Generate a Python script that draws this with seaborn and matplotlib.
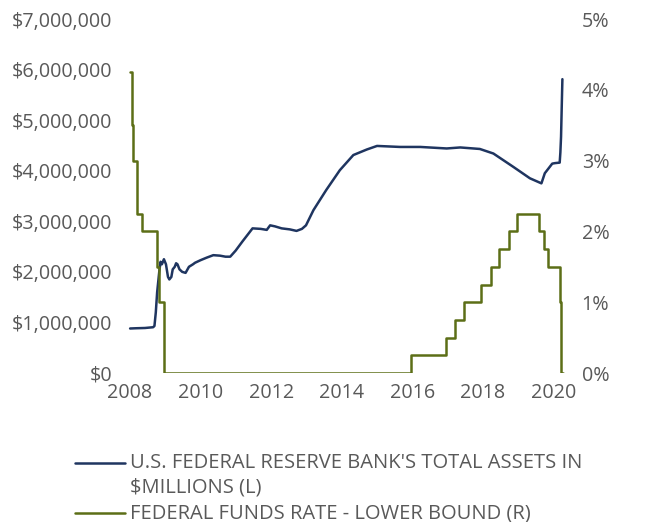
import matplotlib
matplotlib.use("Agg")
import matplotlib.pyplot as plt
import matplotlib.dates as mdates
from matplotlib.lines import Line2D
from matplotlib.ticker import FuncFormatter, MultipleLocator
import seaborn as sns
import pandas as pd

# ---------------- data ----------------
asset_dates = [
    "2008-01-02", "2008-03-05", "2008-06-04", "2008-08-27", "2008-09-10", "2008-09-24",
    "2008-10-08", "2008-10-29", "2008-11-12", "2008-11-26", "2008-12-17", "2009-01-07",
    "2009-01-28", "2009-02-11", "2009-03-04", "2009-03-18", "2009-04-08", "2009-04-22",
    "2009-05-06", "2009-05-27", "2009-06-24", "2009-07-29", "2009-09-02", "2009-10-14",
    "2009-11-04", "2009-12-30", "2010-03-03", "2010-05-12", "2010-07-21", "2010-09-15",
    "2010-11-03", "2010-12-29", "2011-03-09", "2011-06-22", "2011-09-14", "2011-11-16",
    "2011-12-21", "2012-02-08", "2012-04-18", "2012-07-11", "2012-09-19", "2012-11-14",
    "2012-12-26", "2013-03-13", "2013-07-24", "2013-12-11", "2014-04-30", "2014-09-17",
    "2014-12-31", "2015-08-26", "2016-03-23", "2016-12-21", "2017-05-10", "2017-11-29",
    "2018-04-18", "2018-11-07", "2019-05-01", "2019-08-28", "2019-10-02", "2019-12-18",
    "2020-01-15", "2020-03-04", "2020-03-11", "2020-03-18", "2020-03-25", "2020-04-01",
]
asset_values = [
    880000, 885000, 890000, 905000, 930000, 1200000,
    1600000, 1990000, 2200000, 2150000, 2250000, 2150000,
    1900000, 1850000, 1900000, 2050000, 2100000, 2170000,
    2150000, 2050000, 2000000, 1980000, 2100000, 2150000,
    2180000, 2230000, 2280000, 2330000, 2320000, 2300000,
    2300000, 2420000, 2600000, 2860000, 2850000, 2830000,
    2920000, 2900000, 2860000, 2840000, 2810000, 2850000,
    2920000, 3220000, 3620000, 4010000, 4310000, 4420000,
    4490000, 4470000, 4470000, 4440000, 4460000, 4430000,
    4340000, 4080000, 3850000, 3750000, 3950000, 4140000,
    4150000, 4160000, 4360000, 4670000, 5250000, 5810000,
]

rate_dates = [
    "2008-01-02", "2008-01-22", "2008-01-30", "2008-03-18", "2008-04-30", "2008-10-08",
    "2008-10-29", "2008-12-16", "2015-12-16", "2016-12-14", "2017-03-15", "2017-06-14",
    "2017-12-13", "2018-03-21", "2018-06-13", "2018-09-26", "2018-12-19", "2019-08-01",
    "2019-09-19", "2019-10-31", "2020-03-04", "2020-03-16", "2020-04-08",
]
rate_values = [
    4.25, 3.5, 3.0, 2.25, 2.0, 1.5,
    1.0, 0.0, 0.25, 0.5, 0.75, 1.0,
    1.25, 1.5, 1.75, 2.0, 2.25, 2.0,
    1.75, 1.5, 1.0, 0.0, 0.0,
]

label_assets = "U.S. FEDERAL RESERVE BANK'S TOTAL ASSETS IN\n$MILLIONS (L)"
label_rate = "FEDERAL FUNDS RATE - LOWER BOUND (R)"
tick_years = [2008, 2010, 2012, 2014, 2016, 2018, 2020]

# ---------------- style ----------------
NAVY = "#1f3560"
OLIVE = "#5c6e17"
GREY = "#595959"
FS_TICK = 14.2
FS_LEG = 14.5
LW = 1.8

sns.set_theme(style="white")
plt.rcParams["font.family"] = ["Open Sans", "DejaVu Sans"]
plt.rcParams["text.color"] = GREY
plt.rcParams["xtick.color"] = GREY
plt.rcParams["ytick.color"] = GREY

W, H = 647, 522
fig = plt.figure(figsize=(W / 100, H / 100), dpi=100)
ax_l, ax_r_px, ax_t, ax_b = 122, 572, 19, 373
ax = fig.add_axes([ax_l / W, 1 - ax_b / H, (ax_r_px - ax_l) / W, (ax_b - ax_t) / H])
ax2 = ax.twinx()

df_a = pd.DataFrame({"date": pd.to_datetime(asset_dates), "value": asset_values})
df_r = pd.DataFrame({"date": pd.to_datetime(rate_dates), "value": rate_values})

sns.lineplot(data=df_a, x="date", y="value", ax=ax, color=NAVY, lw=LW, legend=False)
sns.lineplot(data=df_r, x="date", y="value", ax=ax2, color=OLIVE, lw=LW,
             drawstyle="steps-post", legend=False)

# axes ranges
x0 = mdates.date2num(pd.Timestamp("2008-01-01"))
x1 = mdates.date2num(pd.Timestamp("2020-01-01"))
pp = (x1 - x0) / (553.6 - 130)
ax.set_xlim(x0 - (130 - ax_l) * pp, x1 + (ax_r_px - 553.6) * pp)
ax.set_ylim(0, 7000000)
ax2.set_ylim(0, 5)

ax.set_xticks([mdates.date2num(pd.Timestamp(f"{y}-01-01")) for y in tick_years])
ax.xaxis.set_major_formatter(mdates.DateFormatter("%Y"))
ax.yaxis.set_major_locator(MultipleLocator(1000000))
ax.yaxis.set_major_formatter(FuncFormatter(lambda v, p: f"${v:,.0f}"))
ax2.yaxis.set_major_locator(MultipleLocator(1))
ax2.yaxis.set_major_formatter(FuncFormatter(lambda v, p: f"{v:.0f}%"))

for a in (ax, ax2):
    a.set_xlabel("")
    a.set_ylabel("")
    for s in a.spines.values():
        s.set_visible(False)
    a.grid(False)
ax.tick_params(axis="both", length=0, labelsize=FS_TICK, colors=GREY)
ax.tick_params(axis="x", pad=7)
ax.tick_params(axis="y", pad=7)
ax2.tick_params(axis="y", length=0, labelsize=FS_TICK, colors=GREY, pad=7)

# legend (manual, below chart)
def fy(p):
    return 1 - p / H

fig.add_artist(Line2D([75 / W, 125 / W], [fy(463)] * 2, color=NAVY, lw=LW))
fig.add_artist(Line2D([75 / W, 125 / W], [fy(513)] * 2, color=OLIVE, lw=LW))
fig.text(130 / W, fy(463), label_assets.split("\n")[0], fontsize=FS_LEG, va="center", ha="left", color=GREY)
fig.text(130 / W, fy(488), label_assets.split("\n")[1], fontsize=FS_LEG, va="center", ha="left", color=GREY)
fig.text(130 / W, fy(513), label_rate, fontsize=FS_LEG, va="center", ha="left", color=GREY)

fig.savefig("out.png", dpi=100)
